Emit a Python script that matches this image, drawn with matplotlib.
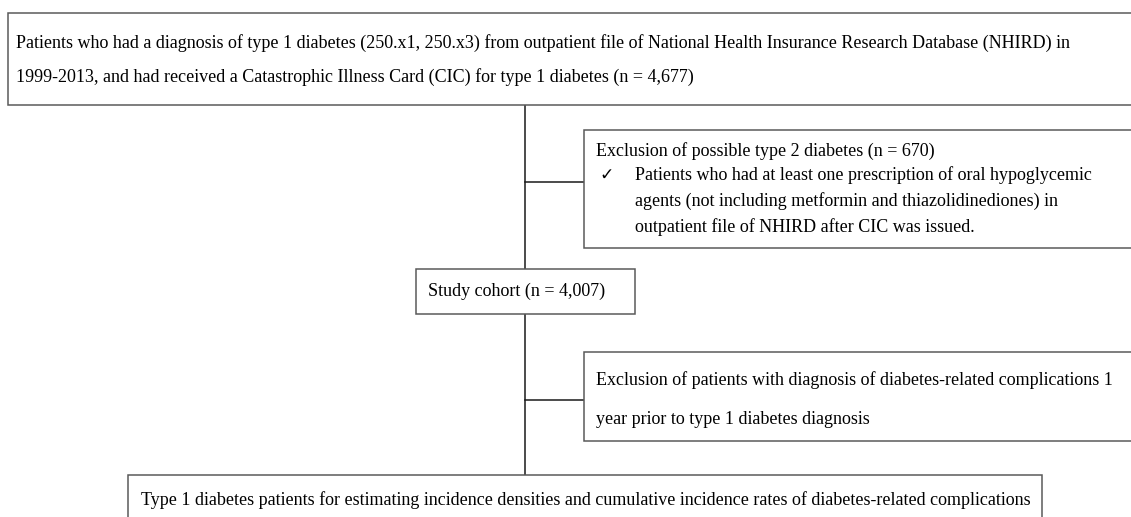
import matplotlib.pyplot as plt
from matplotlib.patches import Rectangle

W, H, DPI = 1131, 517, 100
FONT = "Liberation Serif"
FS = 13.0
EDGE = "#5a5a5a"
LINE = "#1a1a1a"

# flowchart content
top_lines = [
    "Patients who had a diagnosis of type 1 diabetes (250.x1, 250.x3) from outpatient file of National Health Insurance Research Database (NHIRD) in",
    "1999-2013, and had received a Catastrophic Illness Card (CIC) for type 1 diabetes (n = 4,677)",
]
excl1_title = "Exclusion of possible type 2 diabetes (n = 670)"
excl1_bullet = [
    "Patients who had at least one prescription of oral hypoglycemic",
    "agents (not including metformin and thiazolidinediones) in",
    "outpatient file of NHIRD after CIC was issued.",
]
cohort_text = "Study cohort (n = 4,007)"
excl2_lines = [
    "Exclusion of patients with diagnosis of diabetes-related complications 1",
    "year prior to type 1 diabetes diagnosis",
]
final_text = ("Type 1 diabetes patients for estimating incidence densities and "
              "cumulative incidence rates of diabetes-related complications")

fig = plt.figure(figsize=(W / DPI, H / DPI), dpi=DPI)
ax = fig.add_axes([0, 0, 1, 1])
ax.set_xlim(0, W)
ax.set_ylim(H, 0)
ax.axis("off")


def box(x0, y0, x1, y1):
    ax.add_patch(Rectangle((x0, y0), x1 - x0, y1 - y0, facecolor="white",
                           edgecolor=EDGE, linewidth=1.1, zorder=2))


def txt(x, y, s, fs=FS, family=FONT):
    ax.text(x, y, s, fontsize=fs, family=family, va="center",
            ha="left", color="black", zorder=3)


# spine of the flowchart
cx = 525
ax.plot([cx, cx], [105, 475], color=LINE, lw=1.1, zorder=1)
ax.plot([cx, 584], [182, 182], color=LINE, lw=1.1, zorder=1)
ax.plot([cx, 584], [400, 400], color=LINE, lw=1.1, zorder=1)

# top box
box(8, 13, W + 5, 105)
txt(16, 43, top_lines[0])
txt(16, 77, top_lines[1])

# first exclusion
box(584, 130, W + 5, 248)
txt(596, 151, excl1_title)
txt(599, 175, "\u2713", fs=FS * 0.95, family="DejaVu Sans")
for i, s in enumerate(excl1_bullet):
    txt(635, 175 + 26 * i, s)

# study cohort
box(416, 269, 635, 314)
txt(428, 291, cohort_text)

# second exclusion
box(584, 352, W + 5, 441)
txt(596, 380, excl2_lines[0])
txt(596, 419, excl2_lines[1])

# final box
box(128, 475, 1042, H + 5)
txt(141, 500, final_text)

fig.savefig("out.png", dpi=DPI)
